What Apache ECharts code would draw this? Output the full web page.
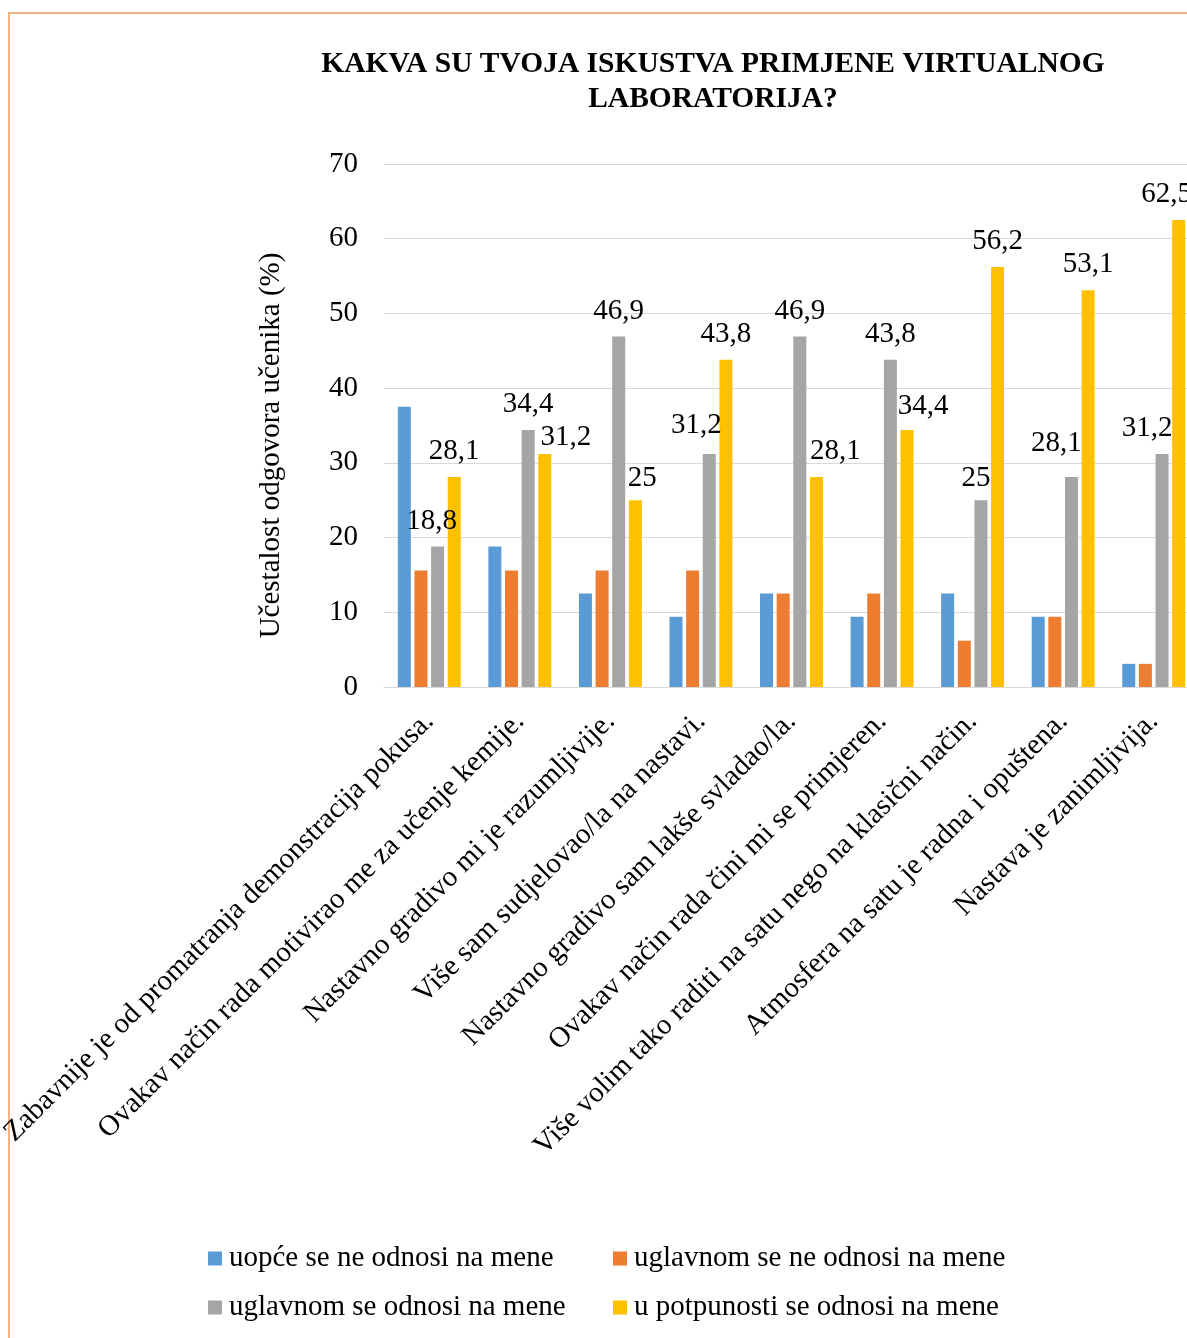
<!DOCTYPE html>
<html>
<head>
<meta charset="utf-8">
<title>Kakva su tvoja iskustva primjene virtualnog laboratorija?</title>
<script src="https://cdn.jsdelivr.net/npm/echarts@6/dist/echarts.min.js"></script>
<style>
  html, body { margin: 0; padding: 0; background: #ffffff; }
  #chart { width: 1187px; height: 1338px; }
</style>
</head>
<body>
<div id="chart"></div>
<script>
// Survey statements (x categories)
const categories = [
  'Zabavnije je od promatranja demonstracija pokusa.',
  'Ovakav način rada motivirao me za učenje kemije.',
  'Nastavno gradivo mi je razumljivije.',
  'Više sam sudjelovao/la na nastavi.',
  'Nastavno gradivo sam lakše svladao/la.',
  'Ovakav način rada čini mi se primjeren.',
  'Više volim tako raditi na satu nego na klasični način.',
  'Atmosfera na satu je radna i opuštena.',
  'Nastava je zanimljivija.'
];

// Answer options (legend)
const seriesNames = [
  'uopće se ne odnosi na mene',
  'uglavnom se ne odnosi na mene',
  'uglavnom se odnosi na mene',
  'u potpunosti se odnosi na mene'
];

// Share of pupils' answers (%)
const notAtAll   = [37.5, 18.8, 12.5, 9.4, 12.5, 9.4, 12.5, 9.4, 3.1];
const mostlyNot  = [15.6, 15.6, 15.6, 15.6, 12.5, 12.5, 6.2, 9.4, 3.1];
const mostly     = [18.8, 34.4, 46.9, 31.2, 46.9, 43.8, 25, 28.1, 31.2];
const completely = [28.1, 31.2, 25, 43.8, 28.1, 34.4, 56.2, 53.1, 62.5];

const yTicks = { min: 0, max: 70, interval: 10 };

const colors = ['#5B9BD5', '#ED7D31', '#A5A5A5', '#FFC000'];
const FONT = '"Liberation Serif", "Times New Roman", serif';
const FS = 29;

// Nudges that keep neighbouring value labels from colliding
const mostlyLabelShift     = [[-6, 0], [0, 0], [0, 0], [-13, -3], [0, 0], [0, 0], [-5, 4], [-15, -8], [-15, 0]];
const completelyLabelShift = [[0, 0], [21, 9], [7, 4], [0, 0], [19, 0], [16, 2], [0, 0], [0, 0], [-12, 0]];

function labelled(values, shifts) {
  return values.map((v, i) => ({ value: v, label: { offset: shifts[i] } }));
}

const valueLabel = {
  show: true,
  position: 'top',
  distance: 11,
  fontFamily: FONT,
  fontSize: FS,
  color: '#000000',
  formatter: p => String(p.value).replace('.', ',')
};

function barSeries(idx, data, withLabels) {
  return {
    name: seriesNames[idx],
    type: 'bar',
    data: data,
    barWidth: 13,
    barGap: '28%',
    itemStyle: { color: colors[idx] },
    label: withLabels ? valueLabel : { show: false }
  };
}

function legendAt(idx, left, top) {
  return {
    data: [seriesNames[idx]],
    left: left,
    top: top,
    icon: 'rect',
    itemWidth: 14,
    itemHeight: 14,
    padding: 0,
    textStyle: { fontFamily: FONT, fontSize: FS, color: '#000000', padding: [0, 0, 0, 2] }
  };
}

const chart = echarts.init(document.getElementById('chart'), null, { renderer: 'canvas' });

chart.setOption({
  backgroundColor: '#ffffff',
  animation: false,
  color: colors,
  title: {
    text: 'KAKVA SU TVOJA ISKUSTVA PRIMJENE VIRTUALNOG\nLABORATORIJA?',
    left: 708,
    top: 42,
    textAlign: 'center',
    textStyle: {
      fontFamily: FONT,
      fontSize: 29.5,
      fontWeight: 'bold',
      color: '#000000',
      lineHeight: 35
    }
  },
  legend: [
    legendAt(0, 208, 1244),
    legendAt(1, 613, 1244),
    legendAt(2, 208, 1293),
    legendAt(3, 613, 1293)
  ],
  // The plot runs past the right edge of the page, so labels are not kept inside
  grid: { left: 384, width: 815, top: 164, height: 523, containLabel: false, outerBoundsMode: 'none' },
  xAxis: {
    type: 'category',
    data: categories,
    axisLine: { show: true, lineStyle: { color: '#D9D9D9', width: 1 } },
    axisTick: { show: false },
    axisLabel: {
      interval: 0,
      rotate: 45,
      margin: 30,
      fontFamily: FONT,
      fontSize: FS,
      color: '#000000'
    }
  },
  yAxis: {
    type: 'value',
    min: yTicks.min,
    max: yTicks.max,
    interval: yTicks.interval,
    name: 'Učestalost odgovora učenika (%)',
    nameLocation: 'middle',
    nameGap: 98,
    nameTextStyle: {
      fontFamily: FONT,
      fontSize: FS,
      color: '#000000',
      padding: [0, 40, 0, 0]
    },
    axisLine: { show: false },
    axisTick: { show: false },
    splitLine: { lineStyle: { color: '#D9D9D9', width: 1 } },
    axisLabel: {
      margin: 26,
      fontFamily: FONT,
      fontSize: FS,
      color: '#000000'
    }
  },
  graphic: [{
    type: 'rect',
    z: -10,
    silent: true,
    shape: { x: 9, y: 13, width: 1400, height: 1500 },
    style: { fill: 'none', stroke: '#F4B183', lineWidth: 2 }
  }],
  series: [
    barSeries(0, notAtAll, false),
    barSeries(1, mostlyNot, false),
    barSeries(2, labelled(mostly, mostlyLabelShift), true),
    barSeries(3, labelled(completely, completelyLabelShift), true)
  ]
});
</script>
</body>
</html>
